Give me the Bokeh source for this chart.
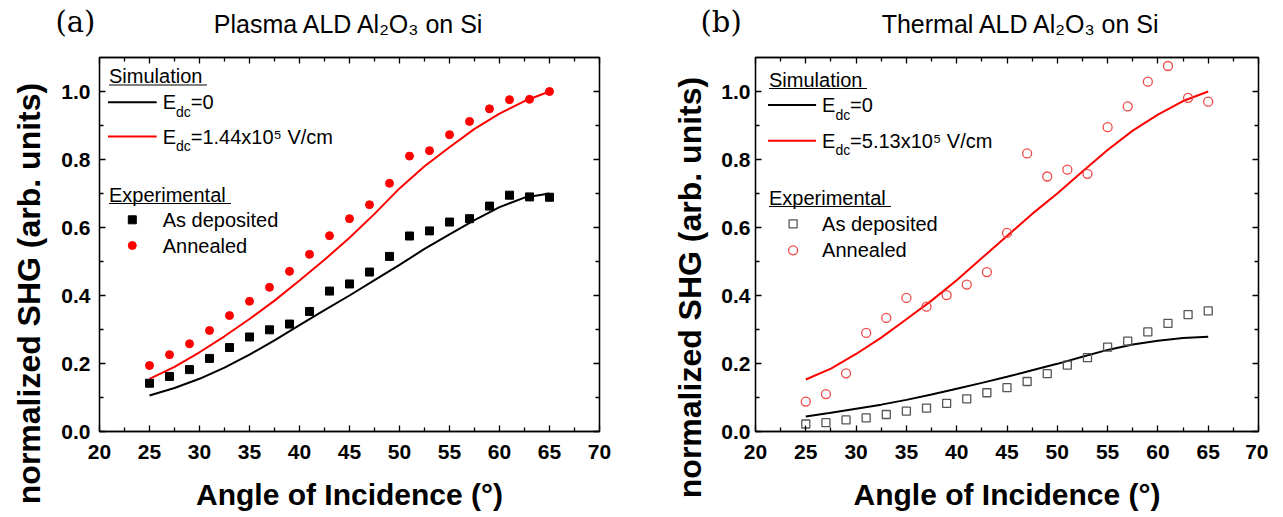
import math
from bokeh.plotting import figure
from bokeh.models import Range1d, LinearAxis, Label, FixedTicker, NumeralTickFormatter
from bokeh.layouts import row, column
from bokeh.embed import file_html
from bokeh.resources import INLINE

# ---------------- data ----------------
angles = [25, 27, 29, 31, 33, 35, 37, 39, 41, 43, 45, 47, 49, 51, 53, 55, 57, 59, 61, 63, 65]
sim_angles = [25, 27.5, 30, 32.5, 35, 37.5, 40, 42.5, 45, 47.5, 50, 52.5, 55, 57.5, 60, 62.5, 65]

plasma_as_deposited = [0.142, 0.162, 0.182, 0.215, 0.247, 0.278, 0.299, 0.316, 0.353, 0.413, 0.434,
                       0.469, 0.515, 0.575, 0.590, 0.616, 0.626, 0.663, 0.695, 0.690, 0.689]
plasma_annealed = [0.194, 0.226, 0.258, 0.297, 0.341, 0.383, 0.424, 0.471, 0.521, 0.576, 0.626,
                   0.667, 0.730, 0.810, 0.826, 0.873, 0.912, 0.949, 0.976, 0.977, 1.000]
plasma_sim_e0 = [0.106, 0.128, 0.155, 0.188, 0.226, 0.268, 0.313, 0.357, 0.400, 0.445, 0.490,
                 0.537, 0.580, 0.622, 0.660, 0.688, 0.700]
plasma_sim_edc = [0.155, 0.190, 0.233, 0.280, 0.331, 0.385, 0.444, 0.505, 0.570, 0.640, 0.715,
                  0.780, 0.836, 0.890, 0.935, 0.972, 1.000]

thermal_as_deposited = [0.022, 0.026, 0.034, 0.040, 0.050, 0.060, 0.069, 0.083, 0.096, 0.114, 0.129,
                        0.147, 0.170, 0.195, 0.217, 0.248, 0.266, 0.293, 0.318, 0.344, 0.355]
thermal_annealed = [0.088, 0.110, 0.171, 0.290, 0.334, 0.393, 0.367, 0.401, 0.432, 0.469, 0.584,
                    0.818, 0.750, 0.770, 0.758, 0.895, 0.956, 1.029, 1.075, 0.981, 0.970]
thermal_sim_e0 = [0.044, 0.055, 0.067, 0.079, 0.093, 0.109, 0.126, 0.143, 0.161, 0.180, 0.199,
                  0.220, 0.240, 0.256, 0.267, 0.275, 0.279]
thermal_sim_edc = [0.153, 0.185, 0.228, 0.276, 0.330, 0.385, 0.445, 0.510, 0.575, 0.640, 0.700,
                   0.765, 0.828, 0.885, 0.932, 0.972, 1.000]

x_major = [20, 25, 30, 35, 40, 45, 50, 55, 60, 65, 70]
x_minor = [22.5, 27.5, 32.5, 37.5, 42.5, 47.5, 52.5, 57.5, 62.5, 67.5]
y_major = [0.0, 0.2, 0.4, 0.6, 0.8, 1.0]
y_minor = [0.1, 0.3, 0.5, 0.7, 0.9]

X_RANGE = (20, 70)
Y_RANGE = (0, 1.1)
FRAME_H = 374
HEAD_H = 40
TOP_B = 57 - HEAD_H
BOT_B = 85
BODY_H = TOP_B + FRAME_H + BOT_B

SANS = "Liberation Sans"
SERIF = "DejaVu Serif"
RED = "#ff0000"


def blank(width, height):
    f = figure(frame_width=width, frame_height=height, x_range=Range1d(0, width),
               y_range=Range1d(height, 0), min_border=0, x_axis_type=None, y_axis_type=None,
               toolbar_location=None, output_backend="svg")
    f.outline_line_color = None
    f.xgrid.visible = False
    f.ygrid.visible = False
    return f


def header(width, tag, tag_x, title, title_cx):
    h = blank(width, HEAD_H)
    h.add_layout(Label(x=tag_x, y=21, text=tag, text_font=SERIF, text_font_size="29px",
                       text_baseline="middle", text_align="left", text_color="black"))
    h.add_layout(Label(x=title_cx, y=23, text=title, text_font=SANS, text_font_size="25px",
                       text_baseline="middle", text_align="center", text_color="black"))
    return h


def ylabel_fig(width, cx, cy):
    f = blank(width, BODY_H)
    f.add_layout(Label(x=cx, y=cy, text="normalized SHG (arb. units)", text_font=SANS,
                       text_font_size="32px", text_font_style="bold", text_align="center",
                       text_baseline="middle", angle=math.pi / 2, text_color="black"))
    return f


def make_panel(edc_text, as_dep, annealed, sim0, simE, fw, border_left, border_right,
               ytick_standoff, leg, filled):
    p = figure(frame_width=fw, frame_height=FRAME_H,
               x_range=Range1d(*X_RANGE), y_range=Range1d(*Y_RANGE),
               min_border_left=border_left, min_border_right=border_right,
               min_border_top=TOP_B, min_border_bottom=BOT_B,
               toolbar_location=None, output_backend="svg")
    p.xgrid.visible = False
    p.ygrid.visible = False
    p.outline_line_color = "black"
    p.outline_line_width = 1.3

    def px(dx, dy):
        # offsets in pixels from the frame's top-left corner -> data coordinates
        return (X_RANGE[0] + dx * (X_RANGE[1] - X_RANGE[0]) / fw,
                Y_RANGE[1] - dy * (Y_RANGE[1] - Y_RANGE[0]) / FRAME_H)

    def style_axis(ax, is_x, show_labels, standoff):
        ax.ticker = FixedTicker(ticks=x_major if is_x else y_major,
                                minor_ticks=x_minor if is_x else y_minor)
        ax.formatter = NumeralTickFormatter(format="0" if is_x else "0.0")
        ax.axis_line_color = "black"
        ax.axis_line_width = 1.3
        ax.major_tick_line_color = "black"
        ax.major_tick_line_width = 1.3
        ax.minor_tick_line_color = "black"
        ax.minor_tick_line_width = 1.3
        ax.major_tick_in = 6
        ax.major_tick_out = 0
        ax.minor_tick_in = 4
        ax.minor_tick_out = 0
        if show_labels:
            ax.major_label_text_font = SANS
            ax.major_label_text_font_style = "bold"
            ax.major_label_text_font_size = "21px"
            ax.major_label_text_color = "black"
            ax.major_label_standoff = standoff
        else:
            ax.major_label_text_font_size = "1px"
            ax.major_label_text_color = None
            ax.major_label_standoff = 0

    style_axis(p.xaxis[0], True, True, 13)
    style_axis(p.yaxis[0], False, True, ytick_standoff)
    xa = p.xaxis[0]
    xa.axis_label = "Angle of Incidence (°)"
    xa.axis_label_text_font = SANS
    xa.axis_label_text_font_style = "bold"
    xa.axis_label_text_font_size = "30px"
    xa.axis_label_text_color = "black"
    xa.axis_label_standoff = 16

    top = LinearAxis()
    right = LinearAxis()
    style_axis(top, True, False, 0)
    style_axis(right, False, False, 0)
    p.add_layout(top, "above")
    p.add_layout(right, "right")

    # simulations
    p.line(sim_angles, sim0, line_color="black", line_width=2)
    p.line(sim_angles, simE, line_color=RED, line_width=2)
    # experiments
    if filled:
        sq = dict(marker="square", size=8, fill_color="black", line_color="black")
        ci = dict(marker="circle", size=8, fill_color=RED, line_color=RED)
    else:
        sq = dict(marker="square", size=8, fill_color=None, line_color="#555555", line_width=1.3)
        ci = dict(marker="circle", size=9, fill_color=None, line_color="#f04848", line_width=1.3)
    p.scatter(angles, as_dep, **sq)
    p.scatter(angles, annealed, **ci)

    # ---- legend (hand-built) ----
    lx, sim_mid, ul1, l1y, l2y, exp_mid, ul2, sqy, ciy, mx, tx, ul1_end, ul2_end = leg

    def text(dx, dy, s, size="20px"):
        x, y = px(dx, dy)
        p.add_layout(Label(x=x, y=y, text=s, text_font=SANS, text_font_size=size,
                           text_align="left", text_baseline="middle", text_color="black"))

    def hline(x0, x1, dy, color, width):
        a, y = px(x0, dy)
        b, _ = px(x1, dy)
        p.line([a, b], [y, y], line_color=color, line_width=width)

    text(lx, sim_mid, "Simulation")
    hline(lx, ul1_end, ul1, "black", 1.2)
    hline(lx - 1, tx - 6, l1y, "black", 2)
    hline(lx - 1, tx - 6, l2y, RED, 2)
    for ly, rest in ((l1y, "=0"), (l2y, edc_text)):
        text(tx, ly, "E")
        text(tx + 13.3, ly + 9.5, "dc", size="14px")
        text(tx + 28, ly, rest)
    text(lx, exp_mid, "Experimental")
    hline(lx, ul2_end, ul2, "black", 1.2)
    mxd, sqd = px(mx, sqy)
    _, cid = px(mx, ciy)
    p.scatter([mxd], [sqd], **sq)
    p.scatter([mxd], [cid], **ci)
    text(tx, sqy, "As deposited")
    text(tx, ciy, "Annealed")
    return p


W_A = 99 + 500 + 56
W_B = 100 + 503 + 10
YLAB_A = 50
YLAB_B = 58

ha = header(W_A, "(a)", 55, "Plasma ALD Al₂O₃ on Si", 349)
hb = header(W_B, "(b)", 700 - W_A, "Thermal ALD Al₂O₃ on Si", 1021 - W_A)

ya = ylabel_fig(YLAB_A, 28, 276 - HEAD_H)
yb = ylabel_fig(YLAB_B, 689 - W_A, 270 - HEAD_H)

pa = make_panel("=1.44x10⁵ V/cm",
                plasma_as_deposited, plasma_annealed, plasma_sim_e0, plasma_sim_edc,
                fw=500, border_left=99 - YLAB_A, border_right=56, ytick_standoff=9,
                leg=(9.5, 18.5, 27.5, 44.7, 79, 137, 146, 162.3, 188, 32.8, 63.2, 107.5, 131.5),
                filled=True)
pb = make_panel("=5.13x10⁵ V/cm",
                thermal_as_deposited, thermal_annealed, thermal_sim_e0, thermal_sim_edc,
                fw=503, border_left=100 - YLAB_B, border_right=10, ytick_standoff=5,
                leg=(13.5, 22.5, 31, 47.6, 83.3, 140, 149, 166.3, 192.8, 37.6, 66.6, 111.5, 135.5),
                filled=False)

layout = column(row(ha, hb), row(ya, pa, yb, pb))
open("out.html", "w").write(file_html(layout, INLINE))
